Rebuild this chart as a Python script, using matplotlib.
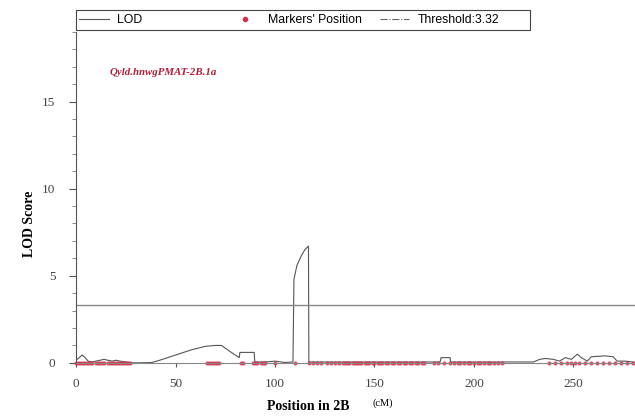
import matplotlib.pyplot as plt
from matplotlib.lines import Line2D
from matplotlib.patches import Rectangle
from matplotlib.ticker import MultipleLocator

plt.rcParams["font.family"] = ["Liberation Serif", "DejaVu Serif"]

# Curva LOD (posicion en cM, valor LOD)
lod_pos = [0, 1.5, 3, 4.5, 6, 8, 10, 12, 14, 16, 18, 20, 22, 25, 28, 32, 38,
           42, 50, 58, 65, 70, 73, 78, 82, 82.3, 89.5, 89.8, 95, 100, 105, 109,
           109.5, 111, 113, 115, 116.8, 117, 125, 150, 175, 183, 183.5, 188,
           188.3, 200, 215, 230, 233, 236, 240, 243, 246, 249, 252, 254, 257,
           259, 266, 270, 272, 276, 280]
lod_val = [0.15, 0.3, 0.45, 0.3, 0.1, 0.05, 0.1, 0.15, 0.2, 0.15, 0.1, 0.15,
           0.1, 0.05, 0.0, 0.0, 0.02, 0.15, 0.45, 0.75, 0.95, 1.0, 1.0, 0.6,
           0.3, 0.6, 0.6, 0.05, 0.05, 0.1, 0.02, 0.05, 4.8, 5.6, 6.1, 6.5, 6.7,
           0.05, 0.05, 0.05, 0.05, 0.05, 0.3, 0.3, 0.05, 0.05, 0.05, 0.05, 0.2,
           0.25, 0.2, 0.1, 0.3, 0.2, 0.5, 0.3, 0.1, 0.35, 0.4, 0.35, 0.1, 0.1,
           0.05]

# Posiciones de marcadores
marcadores = [0, 1, 2, 3, 4, 5, 6, 7, 8, 10, 11, 12, 13, 14, 16, 17, 18, 19,
              20, 21, 22, 23, 24, 25, 26, 27, 66, 67, 68, 69, 70, 71, 72, 83,
              84, 89, 90, 91, 93, 94, 95, 100, 110, 117, 119, 121, 123, 126,
              128, 130, 132, 134, 135, 136, 137, 139, 140, 141, 142, 143, 145,
              146, 147, 149, 150, 152, 153, 154, 156, 157, 159, 160, 162, 163,
              165, 166, 168, 169, 171, 172, 174, 175, 180, 182, 185, 188, 190,
              192, 193, 195, 197, 198, 200, 202, 203, 205, 207, 208, 210, 212,
              214, 238, 241, 244, 247, 249, 251, 253, 256, 259, 262, 265, 268,
              271, 274, 277, 280]

umbral = 3.32
nombre_qtl = "Qyld.hnwgPMAT-2B.1a"

fig = plt.figure(figsize=(6.35, 4.19), dpi=100)
ax = fig.add_axes([0.12, 0.134, 0.88, 0.79])

ax.plot(lod_pos, lod_val, color="#555555", lw=0.8)
ax.plot(marcadores, [0] * len(marcadores), ls="none", marker="o", ms=2,
        color="#d8304a", alpha=0.75, clip_on=False)
ax.axhline(umbral, color="#888888", lw=1.0)

ax.text(17, 16.5, nombre_qtl, color="#b0203a", fontsize=7.8,
        fontweight="bold", fontstyle="italic")

ax.set_xlim(0, 281)
ax.set_ylim(0, 19)
ax.spines["top"].set_visible(False)
ax.spines["right"].set_visible(False)
ax.spines["left"].set_color("#555555")
ax.spines["bottom"].set_color("#888888")
ax.set_xticks([0, 50, 100, 150, 200, 250])
ax.set_yticks([0, 5, 10, 15])
ax.yaxis.set_minor_locator(MultipleLocator(1))
ax.tick_params(axis="both", labelsize=9.5, colors="#555555", labelcolor="#444444")
ax.tick_params(axis="x", length=3, direction="out", pad=8)
ax.tick_params(axis="y", which="major", length=5, pad=10)
ax.tick_params(axis="y", which="minor", length=3, color="#777777")

ax.set_ylabel("LOD Score", fontsize=10, fontweight="bold")
ax.yaxis.set_label_coords(-0.072, 0.42)
fig.text(0.485, 0.022, "Position in 2B", fontsize=10, fontweight="bold",
         ha="center")
fig.text(0.587, 0.032, "(cM)", fontsize=7.5, ha="left")

# Leyenda: marco y tres columnas de igual ancho
leyenda_x = [0.125, 0.362, 0.598]
manejadores = [
    Line2D([], [], color="#555555", lw=0.8),
    Line2D([], [], ls="none", marker="o", ms=3, color="#d8304a"),
    Line2D([], [], color="#666666", lw=0.8, ls="-."),
]
etiquetas = ["LOD", "Markers' Position", f"Threshold:{umbral}"]
fig.add_artist(Rectangle((0.12, 0.928), 0.715, 0.048, transform=fig.transFigure,
                         fill=False, edgecolor="#444444", lw=0.8))
for x0, h, etq in zip(leyenda_x, manejadores, etiquetas):
    fig.legend([h], [etq], loc="center left", bbox_to_anchor=(x0, 0.952),
               frameon=False, borderpad=0, borderaxespad=0, handlelength=2.4,
               handletextpad=0.7,
               prop={"family": ["Liberation Sans", "DejaVu Sans"], "size": 8.8})

fig.savefig("out.png", dpi=100)
